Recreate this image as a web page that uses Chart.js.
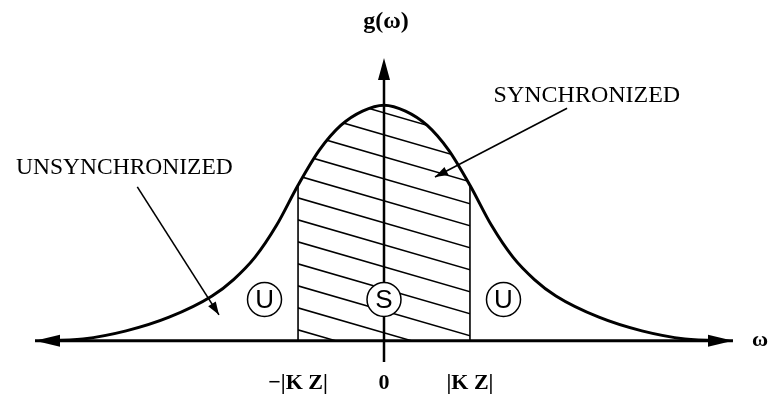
<!DOCTYPE html>
<html>
<head>
<meta charset="utf-8">
<script src="https://cdn.jsdelivr.net/npm/chart.js@4/dist/chart.umd.min.js"></script>
<style>
  html, body { margin: 0; padding: 0; background: #fff; }
  canvas { display: block; }
</style>
</head>
<body>
<canvas id="chart" width="771" height="395"></canvas>
<script>
// Natural-frequency distribution g(ω), peak normalised to 1
const omega   = [-4.06, -3.5, -3.0, -2.5, -2.0, -1.75, -1.5, -1.25, -1.0, -0.75, -0.5, -0.25, 0,
                 0.25, 0.5, 0.75, 1.0, 1.25, 1.5, 1.75, 2.0, 2.5, 3.0, 3.5, 4.06];
const density = [0, 0.008, 0.042, 0.10, 0.19, 0.26, 0.355, 0.49, 0.66, 0.81, 0.915, 0.975, 1.0,
                 0.975, 0.915, 0.81, 0.66, 0.49, 0.355, 0.26, 0.19, 0.10, 0.042, 0.008, 0];

// Locking threshold |K Z| (in units of ω) and the axis tick labels
const lockBound  = 1;
const tickValues = [-1, 0, 1];
const tickLabels = ['\u2212|K Z|', '0', '|K Z|'];

// Region markers and callouts
const regionLetters = ['U', 'S', 'U'];
const regionOmega   = [-1.39, 0, 1.39];
const calloutTexts  = ['UNSYNCHRONIZED', 'SYNCHRONIZED'];

const SERIF = '"Liberation Serif", "Times New Roman", serif';
const SANS  = '"Liberation Sans", Arial, sans-serif';

function arrowHead(ctx, tipX, tipY, fromX, fromY, len, half) {
  const a = Math.atan2(tipY - fromY, tipX - fromX);
  const bx = tipX - len * Math.cos(a), by = tipY - len * Math.sin(a);
  const nx = -Math.sin(a) * half, ny = Math.cos(a) * half;
  ctx.beginPath();
  ctx.moveTo(tipX, tipY);
  ctx.lineTo(bx + nx, by + ny);
  ctx.lineTo(bx - nx, by - ny);
  ctx.closePath();
  ctx.fill();
}

const diagramPlugin = {
  id: 'diagram',
  beforeDatasetsDraw(chart) {
    const { ctx, chartArea: area } = chart;
    const xs = chart.scales.x, ys = chart.scales.y;
    const x0 = xs.getPixelForValue(0);
    const yb = ys.getPixelForValue(0);
    const xL = xs.getPixelForValue(-lockBound);
    const xR = xs.getPixelForValue(lockBound);
    const line = chart.getDatasetMeta(0).dataset;

    ctx.save();
    ctx.strokeStyle = '#000';
    ctx.fillStyle = '#000';

    // hatching of the locked band under the curve
    ctx.save();
    ctx.beginPath();
    ctx.rect(xL, area.top, xR - xL, yb - area.top);
    ctx.clip();
    ctx.beginPath();
    if (line && typeof line.path === 'function') {
      line.path(ctx);
    } else {
      chart.getDatasetMeta(0).data.forEach((p, i) => i ? ctx.lineTo(p.x, p.y) : ctx.moveTo(p.x, p.y));
    }
    ctx.lineTo(area.right, yb);
    ctx.lineTo(area.left, yb);
    ctx.closePath();
    ctx.clip();
    ctx.lineWidth = 1.5;
    const slope = 0.29, gap = 22;
    for (let k = 0; k < 16; k++) {
      const c = yb + 14 - gap * k;
      ctx.beginPath();
      ctx.moveTo(xL - 4, c + slope * (xL - 4 - x0));
      ctx.lineTo(xR + 4, c + slope * (xR + 4 - x0));
      ctx.stroke();
    }
    ctx.restore();

    // boundaries of the locked band
    ctx.lineWidth = 1.6;
    [-lockBound, lockBound].forEach(b => {
      const i = omega.indexOf(b);
      const xp = xs.getPixelForValue(b);
      ctx.beginPath();
      ctx.moveTo(xp, yb);
      ctx.lineTo(xp, ys.getPixelForValue(density[i]));
      ctx.stroke();
    });

    // ω axis with arrows at both ends
    ctx.lineWidth = 3;
    ctx.beginPath();
    ctx.moveTo(area.left + 10, yb);
    ctx.lineTo(area.right - 10, yb);
    ctx.stroke();
    arrowHead(ctx, area.left, yb, area.left + 10, yb, 25, 6);
    arrowHead(ctx, area.right, yb, area.right - 10, yb, 25, 6);

    // g axis
    ctx.lineWidth = 2.5;
    ctx.beginPath();
    ctx.moveTo(x0, area.bottom);
    ctx.lineTo(x0, area.top + 10);
    ctx.stroke();
    arrowHead(ctx, x0, area.top, x0, area.top + 10, 22, 6);
    ctx.restore();
  },
  afterDraw(chart) {
    const { ctx, chartArea: area } = chart;
    const xs = chart.scales.x, ys = chart.scales.y;
    const px = v => xs.getPixelForValue(v), py = v => ys.getPixelForValue(v);
    const x0 = px(0), yb = py(0);

    ctx.save();
    ctx.fillStyle = '#000';
    ctx.strokeStyle = '#000';
    ctx.textAlign = 'center';
    ctx.textBaseline = 'middle';

    // axis names
    ctx.font = 'bold 24px ' + SERIF;
    ctx.fillText('g(\u03c9)', x0 + 2, area.top - 36);
    ctx.font = 'bold 22px ' + SERIF;
    ctx.fillText('\u03c9', area.right + 27, yb);

    // circled region letters
    regionLetters.forEach((t, i) => {
      const cx = px(regionOmega[i]), cy = py(0.175);
      ctx.beginPath();
      ctx.arc(cx, cy, 17, 0, Math.PI * 2);
      ctx.fillStyle = '#fff';
      ctx.fill();
      ctx.lineWidth = 1.5;
      ctx.stroke();
      ctx.fillStyle = '#000';
      ctx.font = '26px ' + SANS;
      ctx.fillText(t, cx, cy + 1);
    });

    // callouts
    const callouts = [
      { text: calloutTexts[0], at: [-3.02, 0.735], from: [-2.87, 0.653], to: [-1.92, 0.11], font: '23.5px ' + SERIF },
      { text: calloutTexts[1], at: [2.36, 1.042], from: [2.13, 0.987], to: [0.593, 0.695], font: '24px ' + SERIF }
    ];
    callouts.forEach(c => {
      ctx.font = c.font;
      ctx.fillText(c.text, px(c.at[0]), py(c.at[1]));
      const fx = px(c.from[0]), fy = py(c.from[1]);
      const tx = px(c.to[0]), ty = py(c.to[1]);
      ctx.lineWidth = 1.6;
      ctx.beginPath();
      ctx.moveTo(fx, fy);
      ctx.lineTo(tx, ty);
      ctx.stroke();
      arrowHead(ctx, tx, ty, fx, fy, 13, 4.5);
    });
    ctx.restore();
  }
};

new Chart(document.getElementById('chart'), {
  type: 'line',
  data: {
    datasets: [{
      data: omega.map((w, i) => ({ x: w, y: density[i] })),
      borderColor: '#000',
      borderWidth: 3,
      pointRadius: 0,
      fill: false,
      cubicInterpolationMode: 'monotone'
    }]
  },
  options: {
    responsive: false,
    animation: false,
    devicePixelRatio: 1,
    layout: { padding: { left: 35, right: 38, top: 58, bottom: 0 } },
    plugins: { legend: { display: false }, tooltip: { enabled: false } },
    scales: {
      x: {
        type: 'linear',
        min: -4.06,
        max: 4.06,
        afterBuildTicks: s => { s.ticks = tickValues.map(v => ({ value: v })); },
        afterFit: s => { s.height = 33; },
        grid: { display: false, drawTicks: false },
        border: { display: false },
        ticks: {
          autoSkip: false,
          maxRotation: 0,
          padding: 8,
          color: '#000',
          font: { family: SERIF, size: 22, weight: 'bold' },
          callback: v => tickLabels[tickValues.indexOf(v)]
        }
      },
      y: { display: false, min: -0.09, max: 1.2 }
    }
  },
  plugins: [diagramPlugin]
});
</script>
</body>
</html>
